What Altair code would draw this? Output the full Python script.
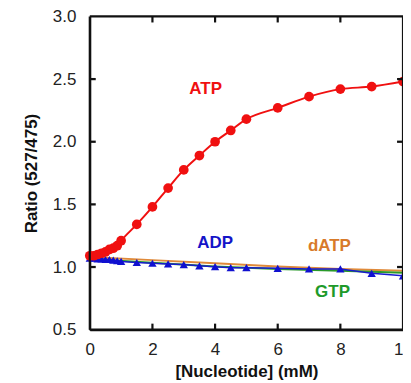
import altair as alt
import pandas as pd

# ATP (red circles, smooth curve)
atp_x = [0, 0.125, 0.25, 0.375, 0.5, 0.625, 0.75, 0.875, 1.0, 1.5, 2, 2.5, 3, 3.5, 4, 4.5, 5, 6, 7, 8, 9, 10]
atp_y = [1.09, 1.09, 1.10, 1.11, 1.12, 1.14, 1.15, 1.17, 1.21, 1.34, 1.48, 1.63, 1.775, 1.89, 2.0, 2.09, 2.18, 2.27, 2.36, 2.42, 2.44, 2.48]

# ADP (blue triangles)
adp_x = [0, 0.125, 0.25, 0.375, 0.5, 0.625, 0.75, 0.875, 1.0, 1.5, 2, 2.5, 3, 3.5, 4, 4.5, 5, 6, 7, 8, 9, 10]
adp_y = [1.07, 1.07, 1.065, 1.065, 1.06, 1.06, 1.055, 1.05, 1.045, 1.036, 1.03, 1.025, 1.02, 1.01, 1.003, 0.995, 0.995, 0.99, 0.985, 0.985, 0.95, 0.93]

# dATP (orange line) and GTP (green line)
datp_x = [0, 2, 4, 6, 8, 10]
datp_y = [1.08, 1.055, 1.03, 1.005, 0.985, 0.97]
gtp_x = [0, 2, 4, 6, 8, 10]
gtp_y = [1.065, 1.035, 1.005, 0.985, 0.97, 0.955]

# labels
lab_text = ["ATP", "ADP", "dATP", "GTP"]
lab_x = [3.7, 4.0, 7.65, 7.75]
lab_y = [2.42, 1.19, 1.17, 0.80]
lab_color = ["#f01010", "#1414c8", "#d87a2a", "#1e9a2a"]

x_ticks = [0, 2, 4, 6, 8, 10]
y_ticks = [0.5, 1.0, 1.5, 2.0, 2.5, 3.0]
x_min, x_max = 0, 10
y_min, y_max = 0.5, 3.0

atp = pd.DataFrame({"x": atp_x, "y": atp_y})
adp = pd.DataFrame({"x": adp_x, "y": adp_y})
datp = pd.DataFrame({"x": datp_x, "y": datp_y})
gtp = pd.DataFrame({"x": gtp_x, "y": gtp_y})
labs = pd.DataFrame({"t": lab_text, "x": lab_x, "y": lab_y, "c": lab_color})

# frame edges and inward ticks as thin filled rectangles (data units)
hx = 0.035   # ~1 px half-thickness along x
hy = 0.009   # ~1 px half-thickness along y
tx = 0.19    # ~6 px tick length along x
ty = 0.048   # ~6 px tick length along y
rects = [
    (x_min, x_max, y_min - hy, y_min + hy),
    (x_min, x_max, y_max - hy, y_max + hy),
    (x_min - hx, x_min + hx, y_min, y_max),
    (x_max - hx, x_max + hx, y_min, y_max),
]
for v in x_ticks[1:-1]:
    rects.append((v - hx, v + hx, y_min, y_min + ty))
    rects.append((v - hx, v + hx, y_max - ty, y_max))
for v in y_ticks[1:-1]:
    rects.append((x_min, x_min + tx, v - hy, v + hy))
    rects.append((x_max - tx, x_max, v - hy, v + hy))
box = pd.DataFrame(rects, columns=["x", "x2", "y", "y2"])

W, H = 314, 314
FONT = "Liberation Sans"
INK = "#111111"
xs = alt.Scale(domain=[x_min, x_max], nice=False, zero=False)
ys = alt.Scale(domain=[y_min, y_max], nice=False, zero=False)

X = alt.X("x:Q", scale=xs, axis=alt.Axis(
    title="[Nucleotide] (mM)", values=x_ticks, format="d", tickSize=0, domain=True,
    domainColor=INK, domainWidth=2,
    grid=False, labelPadding=12, titlePadding=6, labelFontSize=17, titleFontSize=17,
    labelFont=FONT, titleFont=FONT, labelColor="#222", titleColor="#111",
    titleFontWeight="bold", labelFlush=False, labelOverlap=False))
Y = alt.Y("y:Q", scale=ys, axis=alt.Axis(
    title="Ratio (527/475)", values=y_ticks, format=".1f", tickSize=0, domain=True,
    domainColor=INK, domainWidth=2,
    grid=False, labelPadding=14, titlePadding=12, labelFontSize=17, titleFontSize=17,
    labelFont=FONT, titleFont=FONT, labelColor="#222", titleColor="#111",
    titleFontWeight="bold", labelFlush=False, labelOverlap=False))

chart = alt.layer(
    alt.Chart(datp).mark_line(color="#e08a3a", strokeWidth=2).encode(x=X, y=Y),
    alt.Chart(gtp).mark_line(color="#2a9a2a", strokeWidth=2).encode(x="x:Q", y="y:Q"),
    alt.Chart(adp).mark_line(color="#1a1ad0", strokeWidth=1.5).encode(x="x:Q", y="y:Q"),
    alt.Chart(adp).mark_point(shape="triangle-up", filled=True, color="#1010d0", size=70, opacity=1).encode(x="x:Q", y="y:Q"),
    alt.Chart(atp).mark_line(color="#f01010", strokeWidth=2, interpolate="monotone").encode(x="x:Q", y="y:Q"),
    alt.Chart(atp).mark_circle(color="#f01010", size=95, opacity=1).encode(x="x:Q", y="y:Q"),
    alt.Chart(labs).mark_text(font=FONT, fontSize=17, fontWeight="bold").encode(
        x="x:Q", y="y:Q", text="t:N", color=alt.Color("c:N", scale=None)),
    alt.Chart(box).mark_rect(color=INK, opacity=1).encode(
        x="x:Q", x2="x2:Q", y="y:Q", y2="y2:Q"),
).properties(
    width=W, height=H,
    autosize=alt.AutoSizeParams(type="none"),
    padding={"left": 82, "top": 8, "right": 0, "bottom": 53},
).configure(background="white").configure_view(strokeWidth=0)

chart.save("out.html", embed_options={"renderer": "svg", "actions": False})
